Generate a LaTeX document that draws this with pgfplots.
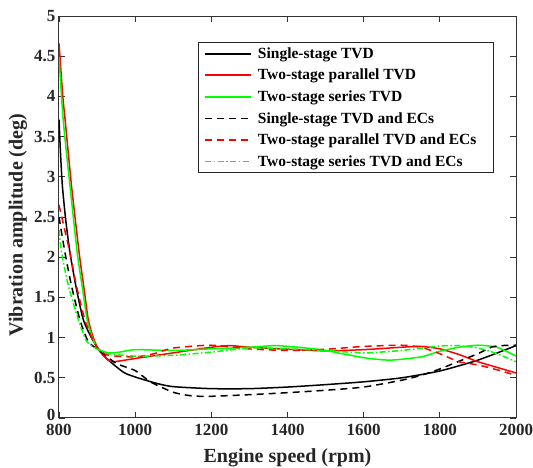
\documentclass[border=0pt]{standalone}
\usepackage{pgfplots}
\pgfplotsset{compat=1.18}
\usepackage{fontspec}
\setmainfont{Liberation Serif}
\definecolor{mred}{RGB}{255,0,0}
\definecolor{mgreen}{RGB}{0,255,0}
\begin{document}
\begin{tikzpicture}[x=1pt,y=1pt]
\begin{axis}[
  at={(0pt,0pt)}, anchor=south west,
  scale only axis,
  width=457pt, height=402pt,
  xmin=800, xmax=2000, ymin=0, ymax=5,
  xtick={800,1000,...,2000},
  ytick={0,0.5,...,5},
  yticklabels={\raisebox{7pt}{0},0.5,1,1.5,2,2.5,3,3.5,4,4.5,5},
  xticklabel style={/pgf/number format/1000 sep={}, yshift=-3pt},
  /pgf/number format/assume math mode=true,
  tick label style={font=\fontsize{17}{17}\selectfont\bfseries, black!85},
  tick align=inside,
  major tick length=6pt,
  axis line style={line width=1pt, black!80},
  every tick/.style={black!80, line width=0.8pt},
  xlabel={Engine speed (rpm)},
  ylabel={Vibration amplitude (deg)},
  label style={font=\fontsize{20}{20}\selectfont\bfseries, black!85},
  xlabel style={at={(0.5,0)}, anchor=center, yshift=-40pt},
  ylabel style={at={(0,0.48)}, anchor=center, yshift=41pt},
  legend style={at={(0.304,0.935)}, anchor=north west, draw=black!85, line width=0.9pt,
     font=\fontsize{15.5}{15.5}\selectfont\bfseries, row sep=5.3pt, inner xsep=6pt, inner ysep=3pt,
     /tikz/every odd column/.append style={column sep=4pt}},
  legend cell align=left,
  legend image code/.code={\draw[#1, line width=1.6pt] (0pt,0pt) -- (46pt,0pt);},
  every axis plot/.append style={line width=1.5pt},
]
\addplot[black, smooth, tension=0.4] coordinates {
(800,3.71)(804,3.29)(809,2.88)(818,2.45)(829,2.05)(846,1.6)(864,1.22)(885,1.0)(903,0.86)(925,0.74)(969,0.57)(1000,0.51)(1057,0.43)(1100,0.39)(1200,0.365)(1300,0.365)(1400,0.385)(1500,0.415)(1600,0.45)(1700,0.50)(1800,0.585)(1900,0.72)(2000,0.90)};
\addlegendentry{Single-stage TVD}
\addplot[mred, smooth, tension=0.4] coordinates {
(800,4.66)(810,4.0)(816,3.71)(833,2.88)(853,2.05)(866,1.6)(877,1.22)(890,1.0)(903,0.86)(920,0.76)(940,0.70)(1000,0.74)(1100,0.81)(1200,0.88)(1250,0.9)(1300,0.88)(1400,0.855)(1500,0.835)(1600,0.85)(1700,0.88)(1750,0.89)(1800,0.86)(1850,0.79)(1900,0.70)(1950,0.63)(2000,0.56)};
\addlegendentry{Two-stage parallel TVD}
\addplot[mgreen, smooth, tension=0.4] coordinates {
(800,4.49)(811,3.71)(829,2.88)(848,2.05)(862,1.6)(874,1.22)(889,0.98)(903,0.86)(930,0.81)(960,0.82)(1000,0.85)(1100,0.84)(1200,0.86)(1300,0.88)(1370,0.9)(1450,0.87)(1500,0.84)(1600,0.75)(1670,0.72)(1750,0.76)(1800,0.83)(1850,0.88)(1900,0.905)(1950,0.88)(2000,0.77)};
\addlegendentry{Two-stage series TVD}
\addplot[black, dash pattern=on 7pt off 5pt, smooth, tension=0.4] coordinates {
(800,2.5)(816,2.05)(833,1.64)(855,1.22)(877,0.95)(903,0.85)(950,0.68)(1000,0.59)(1040,0.45)(1100,0.32)(1150,0.275)(1200,0.27)(1300,0.29)(1400,0.315)(1500,0.345)(1600,0.385)(1700,0.47)(1750,0.53)(1800,0.61)(1850,0.705)(1900,0.80)(1935,0.88)(1960,0.9)(2000,0.905)};
\addlegendentry{Single-stage TVD and ECs}
\addplot[mred, dash pattern=on 7pt off 5pt, smooth, tension=0.4] coordinates {
(800,2.65)(812,2.4)(829,2.05)(846,1.64)(868,1.22)(888,0.98)(903,0.86)(930,0.78)(1000,0.76)(1050,0.8)(1100,0.87)(1200,0.905)(1300,0.86)(1400,0.84)(1500,0.855)(1600,0.89)(1700,0.905)(1750,0.88)(1800,0.80)(1850,0.70)(1900,0.66)(1950,0.60)(2000,0.53)};
\addlegendentry{Two-stage parallel TVD and ECs\hspace*{9pt}}
\addplot[mgreen, dash pattern=on 6pt off 2.5pt on 1.5pt off 2.5pt, smooth, tension=0.4] coordinates {
(800,2.34)(807,2.05)(825,1.64)(851,1.22)(873,0.95)(903,0.85)(930,0.8)(1000,0.77)(1100,0.78)(1200,0.82)(1300,0.87)(1400,0.86)(1500,0.84)(1600,0.81)(1700,0.84)(1800,0.895)(1850,0.90)(1900,0.87)(1950,0.80)(2000,0.70)};
\addlegendentry{Two-stage series TVD and ECs}
\end{axis}
\pgfresetboundingbox
\useasboundingbox (-59pt,-50pt) rectangle (474pt,418pt);
\end{tikzpicture}
\end{document}
